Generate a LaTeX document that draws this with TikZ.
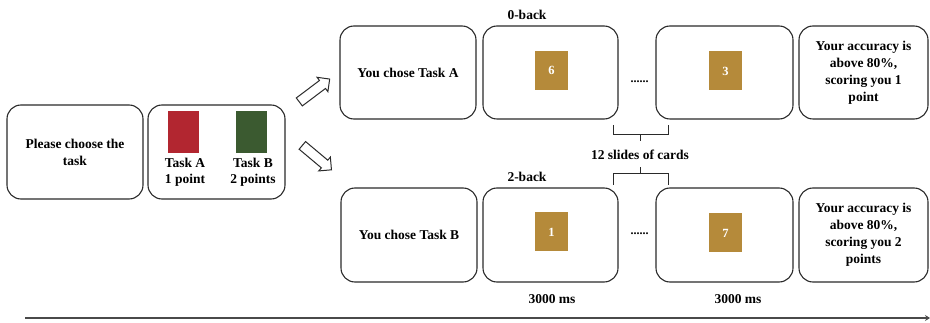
\documentclass[tikz,border=0pt]{standalone}
\usepackage{fontspec}
\setmainfont{Liberation Serif}
\usetikzlibrary{shapes.arrows,arrows.meta}
\definecolor{cardred}{HTML}{B22630}
\definecolor{cardgreen}{HTML}{3B5A30}
\definecolor{cardgold}{HTML}{B58A3A}
\definecolor{edge}{HTML}{2A2A2A}
\tikzset{
  panel/.style={draw=edge, line width=1.1pt, rounded corners=14pt, inner sep=0pt, align=center,
    font=\fontsize{13.5}{17}\selectfont\bfseries},
  lbl/.style={inner sep=0pt, align=center, font=\fontsize{13.5}{16}\selectfont\bfseries},
  goldcard/.style={fill=cardgold, text=white, inner sep=0pt, minimum width=33pt, minimum height=39pt,
    font=\fontsize{12.5}{14}\selectfont\bfseries},
  taskcard/.style={inner sep=0pt, minimum width=31pt, minimum height=42pt},
  hollow/.style={single arrow, draw=edge, line width=1pt, fill=white, inner sep=4.5pt,
    minimum height=38pt, single arrow head extend=4pt},
  bracket/.style={draw=edge, line width=1pt},
  dotsl/.style={inner sep=0pt, font=\fontsize{12}{14}\selectfont\bfseries}
}
\begin{document}
\begin{tikzpicture}[x=1pt,y=-1pt]
\useasboundingbox (0,0) rectangle (930,323);
% left panels
\node[panel, minimum width=136pt, minimum height=94pt] (p1) at (75,152) {Please choose the\\task};
\node[panel, minimum width=137pt, minimum height=94pt] (p2) at (216.5,152) {};
\node[taskcard, fill=cardred] (red) at (183.5,132) {};
\node[taskcard, fill=cardgreen] (green) at (251.5,132) {};
\node[lbl] (ta) at (185,172.5) {Task A\\1 point};
\node[lbl] (tb) at (253,172.5) {Task B\\2 points};
% arrows
\node[hollow, rotate=37] (upar) at (312.5,92) {};
\node[hollow, rotate=-40] (dnar) at (315,156) {};
% top row
\node[lbl] (zb) at (527,15) {0-back};
\node[panel, minimum width=136pt, minimum height=93pt] (a1) at (408,72.5) {You chose Task A};
\node[panel, minimum width=135pt, minimum height=93pt] (a2) at (550.5,72.5) {};
\node[panel, minimum width=137pt, minimum height=93pt] (a3) at (724.5,72.5) {};
\node[panel, minimum width=129pt, minimum height=93pt] (a4) at (863.5,72.5) {Your accuracy is\\above 80\%,\\scoring you 1\\point};
\node[goldcard] (c6) at (551.5,70.5) {6};
\node[goldcard] (c3) at (725.5,71) {3};
\node[dotsl] (d1) at (639.5,82) {......};
% bottom row
\node[lbl] (tb2) at (527,177) {2-back};
\node[panel, minimum width=136pt, minimum height=94pt] (b1) at (409,235) {You chose Task B};
\node[panel, minimum width=135pt, minimum height=94pt] (b2) at (550.5,235) {};
\node[panel, minimum width=137pt, minimum height=94pt] (b3) at (724.5,235) {};
\node[panel, minimum width=129pt, minimum height=94pt] (b4) at (863.5,235) {Your accuracy is\\above 80\%,\\scoring you 2\\points};
\node[goldcard] (c1) at (551.5,232) {1};
\node[goldcard] (c7) at (725.5,233) {7};
\node[dotsl] (d2) at (639.5,234) {......};
% brackets
\node[lbl] (slides) at (640,155) {12 slides of cards};
\coordinate (u1) at (640.5,135);
\coordinate (u2) at (640.5,141);
\coordinate (l1) at (640.5,174);
\coordinate (l2) at (640.5,167);
\draw[bracket] (613,125) -- (613,135) -- (668,135) -- (668,125);
\draw[bracket] (u1) -- (u2);
\draw[bracket] (613,185) -- (613,174) -- (668,174) -- (668,185);
\draw[bracket] (l1) -- (l2);
% times
\node[lbl] (ms1) at (552,299) {3000 ms};
\node[lbl] (ms2) at (738,299) {3000 ms};
% timeline
\coordinate (t0) at (25,318);
\coordinate (t1) at (930,318);
\draw[edge!85, line width=1.8pt, -{Stealth[length=5pt,width=6pt]}] (t0) -- (t1);
\end{tikzpicture}
\end{document}
